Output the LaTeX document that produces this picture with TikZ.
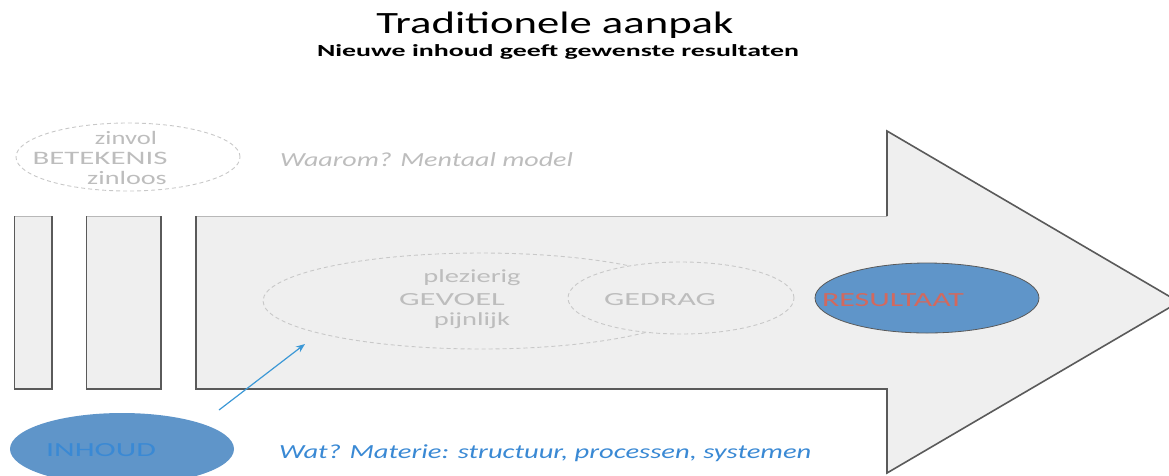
\documentclass[tikz,border=0pt]{standalone}
\usepackage{fontspec}
\setmainfont{Carlito}[FakeStretch=1.4]
\usetikzlibrary{shapes.geometric,arrows.meta}
\definecolor{panel}{HTML}{EFEFEF}
\definecolor{edgedark}{HTML}{5A5A5A}
\definecolor{edgelight}{HTML}{B8B8B8}
\definecolor{dashgray}{HTML}{C8C8C8}
\definecolor{textgray}{HTML}{BDBDBD}
\definecolor{bluefill}{HTML}{5F95C9}
\definecolor{bluetext}{HTML}{3A89D4}
\definecolor{redtext}{HTML}{D2695E}
\definecolor{bluearrow}{HTML}{3C98D6}
% horizontal widening of a label
\newcommand{\widen}[2]{\scalebox{#1}[1]{#2}}
\tikzset{
  dashell/.style={ellipse, draw=dashgray, dash pattern=on 4pt off 3pt, line width=0.9pt, inner sep=0pt},
  blueell/.style={ellipse, fill=bluefill, inner sep=0pt},
  graytxt/.style={text=textgray, inner sep=0pt, font=\fontsize{19}{19}\selectfont},
  darkedge/.style={draw=edgedark, line width=1.6pt},
  lightedge/.style={draw=edgelight, line width=1pt},
}
\begin{document}
\begin{tikzpicture}[x=1pt,y=-1pt]
\useasboundingbox (0,0) rectangle (1169,475);
\clip (0,0) rectangle (1169,475);

% title block
\node[inner sep=0pt, font=\fontsize{31}{31}\selectfont] (title) at (555,25) {\widen{1.03}{Traditionele aanpak}};
\node[inner sep=0pt, font=\fontsize{17}{17}\selectfont\bfseries] (subtitle) at (558,52) {\widen{1.17}{Nieuwe inhoud geeft gewenste resultaten}};

% two narrow columns
\fill[panel] (14,216) rectangle (52,389);
\draw[lightedge] (14,216) -- (52,216);
\draw[darkedge, line width=1pt] (14,216) -- (14,389);
\draw[darkedge] (52,216) -- (52,389) -- (14,389);
\fill[panel] (86,216) rectangle (161,389);
\draw[lightedge] (86,216) -- (161,216);
\draw[darkedge, line width=1pt] (86,216) -- (86,389);
\draw[darkedge] (161,216) -- (161,389) -- (86,389);

% big arrow
\fill[panel] (196,216) -- (887,216) -- (887,131) -- (1179,302) -- (887,473) -- (887,389) -- (196,389) -- cycle;
\draw[lightedge] (196,216) -- (887,216);
\draw[darkedge] (887,216) -- (887,131) -- (1179,302) -- (887,473) -- (887,389) -- (196,389) -- (196,216);

% ellipses on the arrow
\node[dashell, minimum width=436pt, minimum height=96pt] (gevoel) at (481,301) {};
\node[dashell, fill=panel, minimum width=226pt, minimum height=72pt] (gedrag) at (681,298) {};
\node[blueell, draw=edgedark, line width=0.8pt, minimum width=224pt, minimum height=70pt] (resultaat) at (927,298) {};

% meaning ellipse
\node[dashell, minimum width=224pt, minimum height=68pt] (betekenis) at (128,157) {};

% content ellipse
\node[blueell, minimum width=224pt, minimum height=72pt] (inhoud) at (122,449) {};

% labels
\node[graytxt] (zinvol) at (126,138) {zinvol};
\node[graytxt] (betlabel) at (100,158) {\widen{1.16}{BETEKENIS}};
\node[graytxt] (zinloos) at (127,178) {\widen{1.06}{zinloos}};
\node[graytxt, anchor=west, font=\fontsize{20}{20}\selectfont\itshape] (waarom) at (280,160) {Waarom? Mentaal model};

\node[graytxt, font=\fontsize{18.5}{18.5}\selectfont] (plezierig) at (472,278) {\widen{1.1}{plezierig}};
\node[graytxt, font=\fontsize{18.5}{18.5}\selectfont] (gevlabel) at (452,300) {\widen{1.26}{GEVOEL}};
\node[graytxt, font=\fontsize{18.5}{18.5}\selectfont] (pijnlijk) at (472,321) {\widen{1.1}{pijnlijk}};
\node[graytxt, font=\fontsize{18.5}{18.5}\selectfont] (gedlabel) at (660,300) {\widen{1.24}{GEDRAG}};

\node[inner sep=0pt, text=redtext, font=\fontsize{20}{20}\selectfont] (reslabel) at (893,300) {\widen{1.14}{RESULTAAT}};
\node[inner sep=0pt, text=bluetext, font=\fontsize{20}{20}\selectfont] (inhlabel) at (101,450) {\widen{1.14}{INHOUD}};
\node[inner sep=0pt, anchor=west, text=bluetext, font=\fontsize{20}{20}\selectfont\itshape] (wat) at (279,453) {\widen{1.02}{Wat? Materie: structuur, processen, systemen}};

% influence arrow
\coordinate (from) at (219,410);
\coordinate (to) at (305,344);
\draw[bluearrow, line width=1.2pt, -{Stealth[length=9pt,width=7pt]}] (from) -- (to);
\end{tikzpicture}
\end{document}
